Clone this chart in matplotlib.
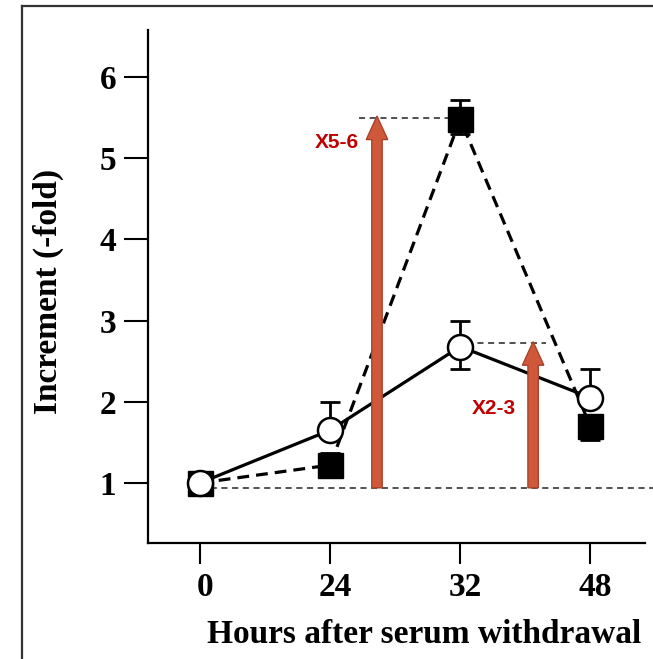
import matplotlib.pyplot as plt
import matplotlib.transforms as mtransforms
from matplotlib.lines import Line2D
from matplotlib.patches import FancyArrow

hours = ['0', '24', '32', '48']
circle_vals = [1.0, 1.65, 2.68, 2.05]
circle_err_up = [0.0, 0.35, 0.32, 0.35]
circle_err_dn = [0.0, 0.0, 0.28, 0.0]
square_vals = [1.0, 1.22, 5.48, 1.70]
square_err_up = [0.0, 0.15, 0.24, 0.0]
square_err_dn = [0.0, 0.0, 0.18, 0.17]
baseline = 0.94
fold_labels = ['X5-6', 'X2-3']
arrow_x = [1.36, 2.56]
arrow_top = [5.52, 2.74]

plt.rcParams['font.family'] = 'Liberation Serif'
plt.rcParams['font.weight'] = 'bold'

fig = plt.figure(figsize=(6.53, 6.59), dpi=100)
ax = fig.add_axes([148 / 653, 1 - 543 / 659, 497 / 653, 513 / 659])
x = list(range(len(hours)))

# frame around the panel
fig.add_artist(Line2D([22 / 653, 1.0], [1 - 6 / 659] * 2, color='#333333', lw=1.6))
fig.add_artist(Line2D([22 / 653] * 2, [0, 1 - 6 / 659], color='#333333', lw=1.6))

# dashed reference lines
ax.plot([0, 3.5], [baseline, baseline], ls=(0, (4, 3)), color='#222222', lw=1.1, clip_on=False, zorder=1)
ax.plot([1.22, 2.0], [square_vals[2] + 0.02] * 2, ls=(0, (4, 3)), color='#222222', lw=1.1, zorder=1)
ax.plot([1.97, 2.66], [circle_vals[2] + 0.04] * 2, ls=(0, (4, 3)), color='#222222', lw=1.1, zorder=1)

# filled squares, dashed line
ax.errorbar(x, square_vals, yerr=[square_err_dn, square_err_up], fmt='none', ecolor='black',
            elinewidth=2, capsize=7, capthick=2, zorder=3)
ax.plot(x, square_vals, ls=(0, (3.7, 2.2)), lw=2.3, color='black', marker='s', ms=18,
        mfc='black', mec='black', zorder=4)

# open circles, solid line
ax.errorbar(x, circle_vals, yerr=[circle_err_dn, circle_err_up], fmt='none', ecolor='black',
            elinewidth=2, capsize=7, capthick=2, zorder=5)
ax.plot(x, circle_vals, ls='-', lw=2.3, color='black', marker='o', ms=18,
        mfc='white', mec='black', mew=1.8, zorder=6)

# red arrows with fold labels
for xa, top, lab, tx, ty in zip(arrow_x, arrow_top, fold_labels, [1.05, 2.26], [5.19, 1.92]):
    ax.add_patch(FancyArrow(xa, baseline, 0, top - baseline, width=0.08, head_width=0.165,
                            head_length=0.29, length_includes_head=True,
                            fc='#d0583a', ec='#a8432b', lw=1, zorder=7))
    ax.text(tx, ty, lab, color='#c00000', fontsize=15, fontweight='bold',
            family='Liberation Sans', ha='center', va='center', zorder=8)

ax.set_xlim(-0.4, 3.42)
ax.set_ylim(0.26, 6.58)
ax.set_xticks(x)
ax.set_xticklabels(hours)
ax.set_yticks([1, 2, 3, 4, 5, 6])
ax.tick_params(direction='out', width=1.5, labelsize=24)
ax.tick_params(axis='y', length=17, pad=6)
ax.tick_params(axis='x', length=15, pad=6)
# tick numbers sit a little right of their ticks in the original
shift = mtransforms.ScaledTranslation(5 / 100, 0, fig.dpi_scale_trans)
for lbl in ax.get_xticklabels():
    lbl.set_transform(lbl.get_transform() + shift)
ax.spines['top'].set_visible(False)
ax.spines['right'].set_visible(False)
ax.spines['left'].set_linewidth(1.6)
ax.spines['bottom'].set_linewidth(1.6)
ax.set_xlabel('Hours after serum withdrawal', fontsize=24, fontweight='bold', va='center')
ax.set_ylabel('Increment (-fold)', fontsize=24, fontweight='bold', va='center')
ax.xaxis.set_label_coords(0.555, -0.179)
ax.yaxis.set_label_coords(-0.201, 0.49)

fig.savefig('out.png', dpi=100)
